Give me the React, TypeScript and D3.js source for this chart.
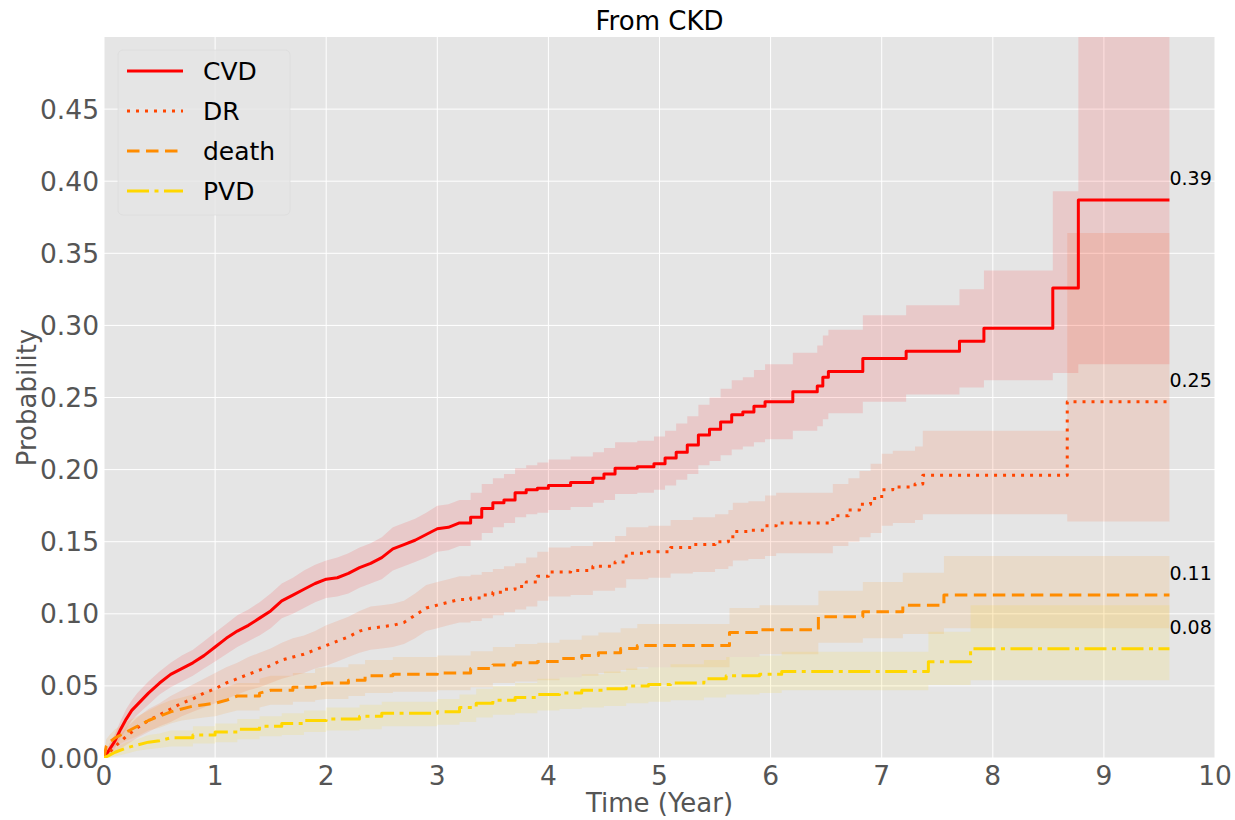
import React from "react"
import * as d3 from "d3"

const W = 1235
const H = 820
const margin = {top: 37, right: 20, bottom: 62, left: 104}

const X_TICKS = [0, 1, 2, 3, 4, 5, 6, 7, 8, 9, 10]
const Y_TICKS = [0, 0.05, 0.1, 0.15, 0.2, 0.25, 0.3, 0.35, 0.4, 0.45]

// CVD cumulative incidence, with its band
const CVD_T = [0, 0.05, 0.1, 0.15, 0.2, 0.25, 0.3, 0.4, 0.5, 0.6, 0.7, 0.8, 0.9, 1.0, 1.1, 1.2, 1.3, 1.4, 1.5, 1.6, 1.7, 1.8, 1.9, 2.0, 2.1, 2.2, 2.3, 2.4, 2.5, 2.6, 2.7, 2.8, 2.9, 3.0, 3.1, 3.2, 3.3, 3.4, 3.5, 3.6, 3.7, 3.8, 3.9, 4.0, 4.2, 4.4, 4.5, 4.6, 4.8, 4.95, 5.05, 5.15, 5.25, 5.35, 5.45, 5.55, 5.65, 5.75, 5.85, 5.95, 6.2, 6.42, 6.47, 6.52, 6.83, 7.22, 7.7, 7.92, 8.54, 8.77, 9.59]
const CVD = [0, 0.006, 0.012, 0.02, 0.027, 0.033, 0.037, 0.045, 0.052, 0.058, 0.062, 0.066, 0.071, 0.077, 0.083, 0.088, 0.092, 0.097, 0.102, 0.109, 0.113, 0.117, 0.121, 0.124, 0.125, 0.128, 0.132, 0.135, 0.139, 0.145, 0.148, 0.151, 0.155, 0.159, 0.16, 0.163, 0.167, 0.173, 0.177, 0.179, 0.184, 0.186, 0.187, 0.189, 0.191, 0.194, 0.197, 0.201, 0.202, 0.204, 0.208, 0.212, 0.217, 0.224, 0.228, 0.233, 0.238, 0.24, 0.244, 0.247, 0.254, 0.258, 0.264, 0.268, 0.277, 0.282, 0.289, 0.298, 0.326, 0.387, 0.387]
const CVD_LO = [0, 0.002, 0.007, 0.014, 0.02, 0.026, 0.03, 0.037, 0.044, 0.049, 0.053, 0.057, 0.062, 0.067, 0.072, 0.077, 0.081, 0.085, 0.09, 0.097, 0.1, 0.104, 0.108, 0.111, 0.112, 0.114, 0.118, 0.121, 0.124, 0.13, 0.133, 0.136, 0.139, 0.143, 0.144, 0.147, 0.151, 0.156, 0.16, 0.163, 0.167, 0.169, 0.17, 0.172, 0.174, 0.177, 0.179, 0.183, 0.184, 0.186, 0.189, 0.193, 0.197, 0.203, 0.206, 0.21, 0.214, 0.216, 0.219, 0.221, 0.227, 0.23, 0.235, 0.239, 0.247, 0.252, 0.257, 0.262, 0.267, 0.273, 0.273]
const CVD_HI = [0, 0.01, 0.017, 0.026, 0.034, 0.04, 0.045, 0.053, 0.06, 0.066, 0.071, 0.075, 0.081, 0.087, 0.093, 0.099, 0.103, 0.108, 0.114, 0.121, 0.125, 0.13, 0.134, 0.137, 0.139, 0.142, 0.146, 0.149, 0.153, 0.16, 0.163, 0.166, 0.17, 0.175, 0.176, 0.179, 0.184, 0.19, 0.194, 0.197, 0.201, 0.203, 0.205, 0.207, 0.209, 0.212, 0.215, 0.219, 0.22, 0.223, 0.227, 0.232, 0.237, 0.245, 0.25, 0.256, 0.262, 0.264, 0.269, 0.273, 0.281, 0.286, 0.293, 0.297, 0.307, 0.314, 0.325, 0.338, 0.393, 0.6, 0.6]

// DR
const DR_T = [0, 0.05, 0.1, 0.2, 0.3, 0.4, 0.5, 0.6, 0.7, 0.8, 0.9, 1.0, 1.1, 1.2, 1.3, 1.4, 1.5, 1.6, 1.7, 1.8, 1.9, 2.0, 2.1, 2.2, 2.3, 2.4, 2.5, 2.6, 2.7, 2.8, 2.9, 3.0, 3.1, 3.2, 3.3, 3.4, 3.5, 3.6, 3.7, 3.8, 3.9, 4.0, 4.2, 4.4, 4.6, 4.7, 4.9, 5.1, 5.3, 5.5, 5.62, 5.66, 5.8, 5.95, 6.05, 6.56, 6.7, 6.8, 6.9, 7.0, 7.1, 7.3, 7.37, 8.67, 9.59]
const DR = [0, 0.004, 0.008, 0.015, 0.021, 0.026, 0.03, 0.034, 0.038, 0.041, 0.045, 0.048, 0.052, 0.055, 0.058, 0.061, 0.064, 0.068, 0.07, 0.072, 0.075, 0.078, 0.081, 0.084, 0.088, 0.09, 0.091, 0.092, 0.094, 0.099, 0.104, 0.106, 0.108, 0.11, 0.111, 0.113, 0.115, 0.117, 0.119, 0.122, 0.126, 0.129, 0.13, 0.133, 0.136, 0.142, 0.143, 0.146, 0.148, 0.15, 0.152, 0.157, 0.158, 0.161, 0.163, 0.168, 0.172, 0.176, 0.18, 0.186, 0.188, 0.19, 0.196, 0.247, 0.247]
const DR_LO = [0, 0.001, 0.004, 0.009, 0.014, 0.018, 0.022, 0.025, 0.029, 0.032, 0.035, 0.038, 0.041, 0.044, 0.047, 0.049, 0.052, 0.055, 0.057, 0.059, 0.062, 0.064, 0.067, 0.07, 0.073, 0.075, 0.076, 0.077, 0.079, 0.083, 0.088, 0.09, 0.092, 0.094, 0.095, 0.097, 0.099, 0.101, 0.103, 0.105, 0.109, 0.112, 0.113, 0.116, 0.118, 0.124, 0.125, 0.128, 0.129, 0.131, 0.133, 0.137, 0.138, 0.14, 0.142, 0.147, 0.15, 0.153, 0.156, 0.161, 0.163, 0.165, 0.169, 0.164, 0.164]
const DR_HI = [0, 0.007, 0.012, 0.021, 0.028, 0.034, 0.038, 0.043, 0.047, 0.051, 0.055, 0.059, 0.063, 0.066, 0.07, 0.073, 0.076, 0.08, 0.083, 0.085, 0.088, 0.092, 0.095, 0.098, 0.102, 0.105, 0.106, 0.107, 0.109, 0.114, 0.12, 0.122, 0.124, 0.126, 0.127, 0.129, 0.131, 0.133, 0.135, 0.139, 0.143, 0.146, 0.147, 0.15, 0.154, 0.16, 0.161, 0.165, 0.167, 0.169, 0.172, 0.177, 0.178, 0.182, 0.184, 0.19, 0.194, 0.199, 0.204, 0.211, 0.213, 0.216, 0.227, 0.364, 0.364]

// death
const DEATH_T = [0, 0.02, 0.05, 0.1, 0.2, 0.3, 0.4, 0.5, 0.6, 0.7, 0.8, 0.9, 1.0, 1.1, 1.2, 1.4, 1.5, 1.7, 1.9, 2.0, 2.2, 2.35, 2.6, 3.0, 3.3, 3.5, 3.7, 3.9, 4.1, 4.3, 4.45, 4.65, 4.8, 5.63, 5.9, 6.43, 6.83, 7.19, 7.56, 9.59]
const DEATH = [0, 0.008, 0.011, 0.014, 0.018, 0.022, 0.026, 0.029, 0.032, 0.034, 0.036, 0.037, 0.038, 0.04, 0.043, 0.045, 0.047, 0.049, 0.051, 0.052, 0.054, 0.057, 0.058, 0.059, 0.062, 0.0645, 0.066, 0.067, 0.069, 0.071, 0.073, 0.076, 0.078, 0.087, 0.089, 0.098, 0.1015, 0.106, 0.113, 0.113]
const DEATH_LO = [0, 0.003, 0.006, 0.008, 0.012, 0.015, 0.019, 0.021, 0.024, 0.026, 0.027, 0.028, 0.029, 0.031, 0.033, 0.035, 0.037, 0.039, 0.04, 0.041, 0.043, 0.045, 0.046, 0.047, 0.049, 0.052, 0.053, 0.054, 0.056, 0.057, 0.059, 0.061, 0.063, 0.07, 0.072, 0.08, 0.083, 0.086, 0.09, 0.09]
const DEATH_HI = [0, 0.013, 0.016, 0.02, 0.025, 0.029, 0.033, 0.037, 0.04, 0.042, 0.044, 0.046, 0.047, 0.049, 0.052, 0.055, 0.057, 0.059, 0.062, 0.063, 0.065, 0.068, 0.07, 0.071, 0.074, 0.077, 0.079, 0.08, 0.082, 0.085, 0.087, 0.09, 0.093, 0.104, 0.106, 0.116, 0.122, 0.1285, 0.14, 0.14]

// PVD
const PVD_T = [0, 0.05, 0.1, 0.2, 0.3, 0.4, 0.5, 0.6, 0.8, 1.0, 1.2, 1.4, 1.6, 1.8, 2.0, 2.3, 2.5, 3.0, 3.2, 3.35, 3.5, 3.7, 3.9, 4.1, 4.3, 4.5, 4.7, 4.9, 5.1, 5.4, 5.6, 5.9, 6.1, 7.42, 7.8, 9.59]
const PVD = [0, 0.002, 0.004, 0.007, 0.009, 0.011, 0.012, 0.014, 0.016, 0.018, 0.02, 0.022, 0.024, 0.026, 0.027, 0.029, 0.031, 0.032, 0.035, 0.038, 0.04, 0.042, 0.044, 0.045, 0.047, 0.048, 0.05, 0.051, 0.052, 0.055, 0.057, 0.058, 0.06, 0.0668, 0.0758, 0.0758]
const PVD_LO = [0, 0, 0.001, 0.003, 0.005, 0.006, 0.007, 0.008, 0.01, 0.011, 0.013, 0.015, 0.016, 0.018, 0.019, 0.02, 0.022, 0.023, 0.025, 0.028, 0.03, 0.031, 0.033, 0.034, 0.035, 0.036, 0.038, 0.039, 0.04, 0.042, 0.044, 0.045, 0.047, 0.0506, 0.054, 0.054]
const PVD_HI = [0, 0.004, 0.007, 0.011, 0.013, 0.016, 0.017, 0.019, 0.022, 0.024, 0.027, 0.029, 0.031, 0.033, 0.035, 0.037, 0.039, 0.041, 0.044, 0.048, 0.05, 0.052, 0.055, 0.056, 0.058, 0.06, 0.062, 0.063, 0.065, 0.068, 0.07, 0.071, 0.0737, 0.0876, 0.106, 0.106]

const series = [
  {name: "CVD", color: "red", dash: "none", t: CVD_T, est: CVD, lo: CVD_LO, hi: CVD_HI},
  {name: "DR", color: "orangered", dash: "3 6", t: DR_T, est: DR, lo: DR_LO, hi: DR_HI},
  {name: "death", color: "darkorange", dash: "12.5 6.5", t: DEATH_T, est: DEATH, lo: DEATH_LO, hi: DEATH_HI},
  {name: "PVD", color: "gold", dash: "22 5.5 4 5.5", t: PVD_T, est: PVD, lo: PVD_LO, hi: PVD_HI},
]

const FONT = "DejaVu Sans, sans-serif"

// where the sampled points are dense (early, many tiny KM steps) join them directly,
// elsewhere draw the step corner
function isStep(t: number[], i: number) {
  return !(t[i] <= 3.2 && t[i] - t[i - 1] <= 0.101)
}

function stepLine(t: number[], v: number[]) {
  const pts: [number, number][] = []
  t.forEach((ti, i) => {
    if (i > 0 && isStep(t, i)) pts.push([ti, v[i - 1]])
    pts.push([ti, v[i]])
  })
  return pts
}

function stepBand(t: number[], lo: number[], hi: number[]) {
  const pts: [number, number, number][] = []
  t.forEach((ti, i) => {
    if (i > 0 && isStep(t, i)) pts.push([ti, lo[i - 1], hi[i - 1]])
    pts.push([ti, lo[i], hi[i]])
  })
  return pts
}

export default function App() {
  const x = d3.scaleLinear().domain([0, 10]).range([margin.left, W - margin.right])
  const y = d3.scaleLinear().domain([0, 0.5]).range([H - margin.bottom, margin.top])

  const line = d3.line<[number, number]>().x(d => x(d[0])).y(d => y(d[1]))
  const area = d3.area<[number, number, number]>()
    .x(d => x(d[0])).y0(d => y(d[1])).y1(d => y(d[2]))

  const x0 = margin.left, x1 = W - margin.right
  const y0 = H - margin.bottom, y1 = margin.top

  return (
    <svg width={W} height={H} style={{position: "absolute", left: 0, top: 0, background: "white"}}
      fontFamily={FONT}>
      <defs>
        <clipPath id="plotclip">
          <rect x={x0} y={y1} width={x1 - x0} height={y0 - y1} />
        </clipPath>
      </defs>
      <rect x={x0} y={y1} width={x1 - x0} height={y0 - y1} fill="#e5e5e5" />
      {/* grid */}
      <g stroke="white" strokeWidth={1}>
        {X_TICKS.map(t => <line key={"gx" + t} x1={x(t)} x2={x(t)} y1={y1} y2={y0} />)}
        {Y_TICKS.map(t => <line key={"gy" + t} x1={x0} x2={x1} y1={y(t)} y2={y(t)} />)}
      </g>
      <g clipPath="url(#plotclip)">
        {series.map(s => (
          <path key={"band" + s.name} d={area(stepBand(s.t, s.lo, s.hi)) || ""}
            fill={s.color} fillOpacity={0.12} stroke="none" />
        ))}
        {series.map(s => (
          <path key={"line" + s.name} d={line(stepLine(s.t, s.est)) || ""}
            fill="none" stroke={s.color} strokeWidth={3} strokeLinejoin="round"
            strokeDasharray={s.dash} />
        ))}
      </g>
      {/* end value labels */}
      {series.map(s => {
        const n = s.t.length - 1
        return (
          <text key={"lab" + s.name} x={x(s.t[n])} y={y(s.est[n]) - 15}
            fontSize={19} fill="black">{s.est[n].toFixed(2)}</text>
        )
      })}
      {/* ticks */}
      <g fill="#555" fontSize={26.5}>
        {X_TICKS.map(t => (
          <text key={"xt" + t} x={x(t)} y={y0 + 27} textAnchor="middle">{t}</text>
        ))}
        {Y_TICKS.map(t => (
          <text key={"yt" + t} x={x0 - 5} y={y(t)} dy="0.36em" textAnchor="end">{t.toFixed(2)}</text>
        ))}
      </g>
      <text x={(x0 + x1) / 2} y={812} textAnchor="middle" fontSize={26} fill="#555">Time (Year)</text>
      <text transform={`translate(36,${(y0 + y1) / 2}) rotate(-90)`} textAnchor="middle"
        fontSize={26} fill="#555">Probability</text>
      <text x={(x0 + x1) / 2} y={30} textAnchor="middle" fontSize={26} fill="black">From CKD</text>
      {/* legend */}
      <g>
        <rect x={118} y={50} width={172} height={165} rx={5} fill="#e5e5e5" fillOpacity={0.8}
          stroke="#d9d9d9" strokeOpacity={0.6} />
        {series.map((s, i) => (
          <g key={"leg" + s.name} transform={`translate(0,${71 + i * 40})`}>
            <line x1={127} x2={183} y1={0} y2={0} stroke={s.color} strokeWidth={3}
              strokeDasharray={s.dash} />
            <text x={203} y={0} dy="0.36em" fontSize={25} fill="black">{s.name}</text>
          </g>
        ))}
      </g>
    </svg>
  )
}
